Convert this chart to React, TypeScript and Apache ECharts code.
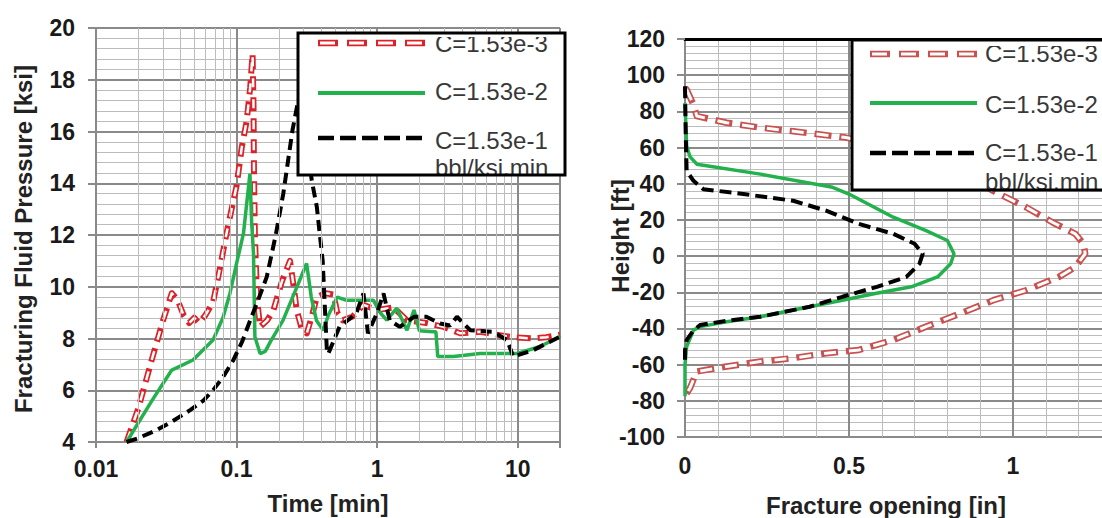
import React, { useEffect, useRef } from 'react';
import * as echarts from 'echarts';

// ---------- data ----------
const legendLabels = ['C=1.53e-3', 'C=1.53e-2', 'C=1.53e-1'];
const legendUnit = 'bbl/ksi.min';

const timeTickLabels = ['0.01', '0.1', '1', '10'];
const openingTickLabels = ['0', '0.5', '1'];

// Left chart: [time (min), pressure (ksi)]
const pressureLow: [number, number][] = [
  [0.0165, 4.0], [0.02, 5.3], [0.025, 7.2], [0.03, 8.7], [0.0346, 9.75], [0.038, 9.5], [0.042, 8.9],
  [0.046, 8.6], [0.05, 8.8], [0.054, 8.6], [0.06, 8.9], [0.068, 9.4], [0.0742, 10.4], [0.0851, 12.1],
  [0.1, 13.9], [0.109, 15.4], [0.118, 16.4], [0.125, 17.7], [0.13, 19.0], [0.132, 17.0], [0.133, 14.5],
  [0.135, 12.0], [0.14, 9.5], [0.147, 8.45], [0.165, 8.7], [0.183, 9.1], [0.21, 10.2], [0.24, 11.0],
  [0.255, 10.0], [0.268, 9.1], [0.29, 8.4], [0.316, 8.2], [0.345, 8.9], [0.372, 9.6], [0.43, 9.75],
  [0.49, 9.7], [0.52, 9.0], [0.57, 8.7], [0.67, 8.85], [0.8, 9.3], [1.0, 9.1], [1.31, 9.2], [1.63, 8.7],
  [2.24, 8.6], [2.97, 8.45], [3.9, 8.2], [5.4, 8.26], [7.0, 8.15], [9.3, 8.05], [12.9, 8.0], [16, 8.05],
  [20, 8.15],
];
const pressureMid: [number, number][] = [
  [0.0165, 4.0], [0.025, 5.6], [0.0346, 6.78], [0.049, 7.17], [0.068, 7.94], [0.08, 8.8], [0.0897, 9.74],
  [0.1, 10.9], [0.112, 12.06], [0.1245, 14.37], [0.128, 12.5], [0.132, 11.28], [0.135, 8.07], [0.147, 7.42],
  [0.16, 7.5], [0.175, 7.9], [0.214, 8.7], [0.26, 9.8], [0.315, 10.9], [0.34, 9.6], [0.37, 8.7],
  [0.414, 8.32], [0.45, 8.9], [0.52, 9.6], [0.6, 9.48], [0.94, 9.48], [1.05, 9.0], [1.17, 8.71],
  [1.38, 9.17], [1.63, 8.32], [1.83, 9.1], [2.0, 8.3], [2.5, 8.26], [2.62, 8.26], [2.7, 7.3], [3.5, 7.3],
  [5.4, 7.42], [8.3, 7.42], [9.9, 7.42], [14.3, 7.68], [20, 8.07],
];
const pressureHigh: [number, number][] = [
  [0.0165, 4.0], [0.02, 4.15], [0.027, 4.46], [0.035, 4.8], [0.047, 5.24], [0.058, 5.6], [0.068, 6.0],
  [0.08, 6.5], [0.095, 7.17], [0.11, 7.9], [0.125, 8.7], [0.145, 9.6], [0.164, 10.38], [0.19, 12.0],
  [0.215, 13.6], [0.25, 16.05], [0.27, 17.0], [0.285, 17.5], [0.3, 16.5], [0.343, 14.1], [0.372, 13.1],
  [0.41, 11.0], [0.44, 7.42], [0.45, 7.42], [0.54, 8.45], [0.71, 8.97], [0.8, 9.74], [0.86, 8.2],
  [1.0, 9.0], [1.11, 9.74], [1.23, 8.7], [1.45, 8.45], [1.83, 8.84], [2.24, 8.84], [2.8, 8.58],
  [3.3, 8.5], [3.7, 8.84], [4.6, 8.32], [6.7, 8.26], [8.4, 7.94], [9.3, 7.3], [12.9, 7.55], [20, 8.07],
];

// Right chart: [fracture opening (in), height (ft)]
const openingLow: [number, number][] = [
  [0, 93], [0.005, 92], [0.015, 88], [0.025, 84], [0.036, 77.4], [0.127, 73.7], [0.23, 71], [0.33, 69],
  [0.49, 65.5], [0.6, 62], [0.7, 57], [0.8, 50], [0.88, 42], [0.94, 36], [1.04, 27], [1.12, 18.7],
  [1.19, 12.3], [1.215, 6.8], [1.22, 1.3], [1.19, -6], [1.14, -11.5], [1.04, -18.9], [0.94, -24.4],
  [0.84, -31.7], [0.735, -39], [0.635, -46.4], [0.53, -51.9], [0.43, -53.7], [0.33, -56.4], [0.23, -58.3],
  [0.127, -61], [0.036, -63.8], [0.015, -73], [0, -77.5],
];
const openingMid: [number, number][] = [
  [0, 84.7], [0.002, 75], [0.005, 60.9], [0.015, 55], [0.036, 50.8], [0.23, 45.3], [0.45, 38], [0.5, 34.3],
  [0.635, 21.5], [0.735, 14.1], [0.8, 8.6], [0.82, 1.3], [0.81, -4.2], [0.77, -11.5], [0.69, -17],
  [0.58, -20.7], [0.48, -24.4], [0.38, -28], [0.23, -33.5], [0.127, -36.3], [0.046, -39], [0.026, -40.9],
  [0.005, -50], [0, -60], [0, -77.5],
];
const openingHigh: [number, number][] = [
  [0, 93.9], [0.002, 69], [0.005, 47], [0.026, 41.6], [0.056, 37], [0.178, 34.3], [0.33, 30.6],
  [0.43, 25.1], [0.53, 17.8], [0.635, 12.3], [0.7, 6.8], [0.725, 1.3], [0.715, -4.2], [0.675, -11.5],
  [0.585, -17], [0.48, -22.5], [0.38, -28], [0.23, -33.5], [0.127, -35.8], [0.046, -38.1], [0.026, -41],
  [0.005, -46.4], [0, -52], [0, -60],
];

// ---------- styles ----------
const MAJOR = '#8a8a8a';
const MINOR = '#bcbcbc';
const RED_L = '#dc2228';
const RED_R = '#c9514f';
const GREEN = '#22b14c';
const TICK_FONT = "'Liberation Sans', Arial, sans-serif";
const TITLE_FONT = "bold 24px 'Liberation Sans', Arial, sans-serif";
const LEGEND_FONT = "24px 'Liberation Sans', Arial, sans-serif";

const logMinor: number[] = [];
[0.01, 0.1, 1, 10].forEach((d) => {
  for (let k = 2; k <= 9; k++) if (d * k < 20) logMinor.push(+(d * k).toPrecision(3));
});

const matchLabel = (labels: string[]) => (v: number) => {
  const m = labels.find((l) => Math.abs(parseFloat(l) - v) <= 1e-6 * Math.max(1, Math.abs(v)));
  return m ?? '';
};

const tickLabel = { color: '#1a1a1a', fontFamily: TICK_FONT, fontWeight: 'bold' as const, fontSize: 23 };

function doubleLine(name: string, data: [number, number][], xi: number, yi: number, color: string, dash: number, gap: number, w: number, iw: number) {
  const e = 2.5;
  return [
    {
      name, type: 'line', xAxisIndex: xi, yAxisIndex: yi, data, showSymbol: false, symbol: 'none', silent: true,
      lineStyle: { color, width: w, type: [dash, gap], cap: 'butt', join: 'round' },
    },
    {
      name: name + ' inner', type: 'line', xAxisIndex: xi, yAxisIndex: yi, data, showSymbol: false, symbol: 'none', silent: true,
      lineStyle: { color: '#ffffff', width: iw, type: [dash - 2 * e, gap + 2 * e], dashOffset: -e, cap: 'butt', join: 'round' },
    },
  ];
}

function legendGroup(box: { x: number; y: number; w: number; h: number }, lineX: [number, number], textX: number, rows: number[], lineRows: number[], clipY: number, red: string) {
  const children: any[] = [
    { type: 'rect', shape: { x: box.x, y: box.y, width: box.w, height: box.h }, style: { fill: '#fff', stroke: 'none' }, z: 100 },
  ];
  legendLabels.forEach((t, i) => {
    children.push({ type: 'text', x: textX, y: rows[i], style: { text: t, font: LEGEND_FONT, fill: '#383838', align: 'left', verticalAlign: 'middle', textAlign: 'left', textVerticalAlign: 'middle' }, z: 101 });
  });
  children.push({ type: 'text', x: textX, y: rows[3], style: { text: legendUnit, font: LEGEND_FONT, fill: '#383838', align: 'left', verticalAlign: 'middle', textAlign: 'left', textVerticalAlign: 'middle' }, z: 101 });
  // white mask that clips the top of the first legend label, as in the source
  children.push({ type: 'rect', shape: { x: box.x + 2, y: box.y, width: box.w - 4, height: clipY - box.y }, style: { fill: '#fff', stroke: 'none' }, z: 102 });
  const e = 2.5;
  children.push(
    { type: 'line', shape: { x1: lineX[0], y1: lineRows[0], x2: lineX[1], y2: lineRows[0] }, style: { stroke: red, lineWidth: 6.5, lineDash: [20, 9], lineCap: 'butt' }, z: 103 },
    { type: 'line', shape: { x1: lineX[0], y1: lineRows[0], x2: lineX[1], y2: lineRows[0] }, style: { stroke: '#fff', lineWidth: 3, lineDash: [20 - 2 * e, 9 + 2 * e], lineDashOffset: -e, lineCap: 'butt' }, z: 104 },
    { type: 'line', shape: { x1: lineX[0], y1: lineRows[1], x2: lineX[1], y2: lineRows[1] }, style: { stroke: GREEN, lineWidth: 4 }, z: 103 },
    { type: 'line', shape: { x1: lineX[0], y1: lineRows[2], x2: lineX[1], y2: lineRows[2] }, style: { stroke: '#000', lineWidth: 4.5, lineDash: [16, 6] }, z: 103 },
  );
  children.push({ type: 'rect', shape: { x: box.x, y: box.y, width: box.w, height: box.h }, style: { fill: 'none', stroke: '#000', lineWidth: 3 }, z: 105 });
  return children;
}

function titleText(text: string, x: number, y: number, rotate = false) {
  return {
    type: 'text', x, y, rotation: rotate ? Math.PI / 2 : 0,
    style: { text, font: TITLE_FONT, fill: '#222', align: 'center', verticalAlign: 'middle', textAlign: 'center', textVerticalAlign: 'middle' },
    z: 50,
  };
}

const option: any = {
  animation: false,
  backgroundColor: '#ffffff',
  grid: [
    { left: 96, top: 28, width: 464, height: 414 },
    { left: 685, top: 39, width: 492, height: 398 },
  ],
  xAxis: [
    {
      type: 'log', gridIndex: 0, logBase: 10, min: 0.01, max: 20,
      axisLine: { show: true, lineStyle: { color: MAJOR, width: 2 } },
      axisTick: { show: true, length: 6, lineStyle: { color: MAJOR, width: 2 } },
      axisLabel: { ...tickLabel, margin: 15, formatter: matchLabel(timeTickLabels) },
      splitLine: { show: true, lineStyle: { color: MAJOR, width: 2 } },
    },
    {
      type: 'value', gridIndex: 1, min: 0, max: 1.5, interval: 0.5,
      axisLine: { show: true, lineStyle: { color: MAJOR, width: 2 } },
      axisTick: { show: true, length: 6, lineStyle: { color: MAJOR, width: 2 } },
      axisLabel: { ...tickLabel, margin: 17, formatter: matchLabel(openingTickLabels) },
      splitLine: { show: true, lineStyle: { color: MAJOR, width: 2 } },
      minorTick: { show: false, splitNumber: 5 },
      minorSplitLine: { show: true, lineStyle: { color: MINOR, width: 1 } },
    },
    {
      type: 'value', gridIndex: 1, position: 'top', min: 0, max: 1.5,
      axisLine: { show: true, onZero: false, lineStyle: { color: '#000', width: 3 } },
      axisTick: { show: false }, axisLabel: { show: false }, splitLine: { show: false },
    },
  ],
  yAxis: [
    {
      type: 'value', gridIndex: 0, min: 4, max: 20, interval: 2,
      axisLine: { show: true, lineStyle: { color: MAJOR, width: 2 } },
      axisTick: { show: true, length: 8, lineStyle: { color: MAJOR, width: 2 } },
      axisLabel: { ...tickLabel, margin: 21 },
      splitLine: { show: true, lineStyle: { color: MAJOR, width: 2 } },
      minorTick: { show: false, splitNumber: 5 },
      minorSplitLine: { show: true, lineStyle: { color: MINOR, width: 1 } },
    },
    {
      type: 'value', gridIndex: 1, min: -100, max: 120, interval: 20,
      axisLine: { show: true, onZero: false, lineStyle: { color: MAJOR, width: 2 } },
      axisTick: { show: true, length: 8, lineStyle: { color: MAJOR, width: 2 } },
      axisLabel: { ...tickLabel, margin: 20 },
      splitLine: { show: true, lineStyle: { color: MAJOR, width: 2 } },
      minorTick: { show: false, splitNumber: 5 },
      minorSplitLine: { show: true, lineStyle: { color: MINOR, width: 1 } },
    },
  ],
  series: [
    {
      name: 'log minor grid', type: 'line', xAxisIndex: 0, yAxisIndex: 0, data: [[0.01, 4]], showSymbol: false, symbol: 'none',
      silent: true, lineStyle: { width: 0, opacity: 0 }, z: 1,
      markLine: {
        silent: true, symbol: ['none', 'none'], label: { show: false }, animation: false,
        lineStyle: { color: MINOR, width: 1, type: 'solid' },
        emphasis: { disabled: true },
        data: logMinor.map((v) => ({ xAxis: v })),
      },
    },
    ...doubleLine(legendLabels[0], pressureLow, 0, 0, RED_L, 14, 7, 6, 2.5),
    { name: legendLabels[1], type: 'line', xAxisIndex: 0, yAxisIndex: 0, data: pressureMid, showSymbol: false, symbol: 'none', silent: true, lineStyle: { color: GREEN, width: 3.5 } },
    { name: legendLabels[2], type: 'line', xAxisIndex: 0, yAxisIndex: 0, data: pressureHigh, showSymbol: false, symbol: 'none', silent: true, lineStyle: { color: '#000', width: 4, type: [11, 6] } },
    ...doubleLine(legendLabels[0] + ' R', openingLow, 1, 1, RED_R, 17, 8, 6.5, 3),
    { name: legendLabels[1] + ' R', type: 'line', xAxisIndex: 1, yAxisIndex: 1, data: openingMid, showSymbol: false, symbol: 'none', silent: true, lineStyle: { color: GREEN, width: 3.5 } },
    { name: legendLabels[2] + ' R', type: 'line', xAxisIndex: 1, yAxisIndex: 1, data: openingHigh, showSymbol: false, symbol: 'none', silent: true, lineStyle: { color: '#000', width: 4, type: [12, 6] } },
  ],
  graphic: [
    titleText('Fracturing Fluid Pressure [ksi]', 23, 239, true),
    titleText('Time [min]', 328, 503),
    titleText('Height [ft]', 620, 236, true),
    titleText('Fracture opening [in]', 886, 505),
    ...legendGroup({ x: 298, y: 33, w: 267, h: 142 }, [318, 425], 435, [43.5, 91, 140, 167], [43, 93, 138], 37, RED_L),
    ...legendGroup({ x: 852, y: 40, w: 300, h: 150 }, [870, 977], 985, [53.5, 104, 152, 181], [54, 103, 153], 46, RED_R),
  ],
};

export default function App() {
  const ref = useRef<HTMLDivElement>(null);
  useEffect(() => {
    if (!ref.current) return;
    const chart = echarts.init(ref.current, null, { renderer: 'svg' });
    chart.setOption(option);
    return () => chart.dispose();
  }, []);
  return (
    <div style={{ position: 'fixed', left: 0, top: 0, width: 1102, height: 518, overflow: 'hidden', background: '#fff' }}>
      <div ref={ref} style={{ width: 1200, height: 518 }} />
    </div>
  );
}
